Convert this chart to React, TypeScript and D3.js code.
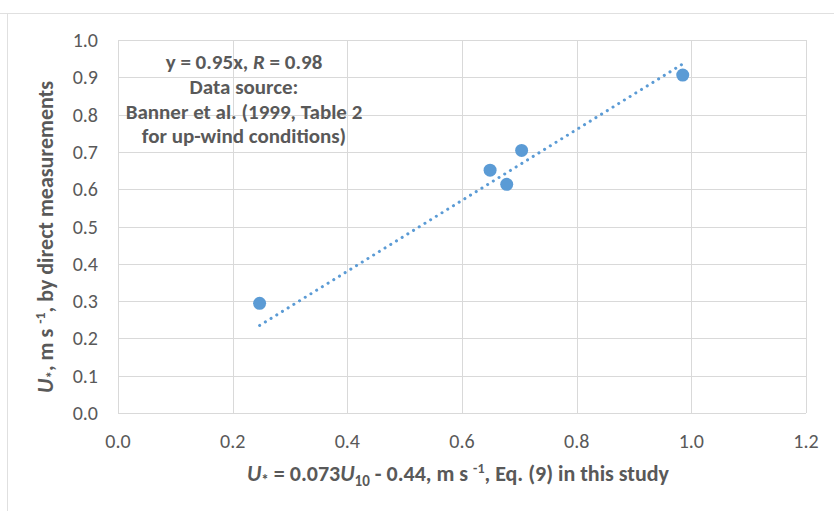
import React from 'react';
import * as d3 from 'd3';

// Values
const xTicks = [0, 0.2, 0.4, 0.6, 0.8, 1.0, 1.2];
const yTicks = [0, 0.1, 0.2, 0.3, 0.4, 0.5, 0.6, 0.7, 0.8, 0.9, 1.0];
const uStarEq9 = [0.247, 0.649, 0.678, 0.704, 0.985];
const uStarMeasured = [0.294, 0.651, 0.613, 0.704, 0.906];
const trendSlope = 0.95;
const noteLines = ['Data source:', 'Banner et al. (1999, Table 2', 'for up-wind conditions)'];

const W = 834;
const H = 511;
const margin = { top: 40, right: 28, bottom: 98, left: 118 };
const font = 'Carlito, Calibri, Lato, "Open Sans", sans-serif';
const grey = '#595959';
const blue = '#5B9BD5';

const App = () => {
  const x = d3.scaleLinear().domain([0, 1.2]).range([margin.left, W - margin.right]);
  const y = d3.scaleLinear().domain([0, 1.0]).range([H - margin.bottom, margin.top]);

  const xMin = d3.min(uStarEq9) as number;
  const xMax = d3.max(uStarEq9) as number;
  const trend = d3
    .line<number>()
    .x(d => x(d))
    .y(d => y(trendSlope * d))([xMin, xMax]);

  const fmt = d3.format('.1f');

  return (
    <svg width={W} height={H} style={{ position: 'absolute', left: 0, top: 0, background: '#fff' }}>
      {/* chart frame */}
      <line x1={0} x2={W} y1={13.5} y2={13.5} stroke="#e0e0e0" />
      <line x1={7.5} x2={7.5} y1={13.5} y2={H} stroke="#e0e0e0" />

      {/* gridlines */}
      {yTicks.map(t => (
        <line key={'gy' + t} x1={x(0)} x2={x(1.2)} y1={Math.round(y(t)) + 0.5} y2={Math.round(y(t)) + 0.5} stroke="#d9d9d9" />
      ))}
      {xTicks.map(t => (
        <line key={'gx' + t} y1={y(0)} y2={y(1)} x1={Math.round(x(t)) + 0.5} x2={Math.round(x(t)) + 0.5} stroke="#d9d9d9" />
      ))}

      {/* tick labels */}
      {yTicks.map(t => (
        <text key={'ty' + t} x={x(0) - 20} y={y(t)} dy="0.35em" textAnchor="end" fontFamily={font} fontSize={20} fill={grey}>
          {fmt(t)}
        </text>
      ))}
      {xTicks.map(t => (
        <text key={'tx' + t} x={x(t)} y={y(0) + 28} dy="0.35em" textAnchor="middle" fontFamily={font} fontSize={20} fill={grey}>
          {fmt(t)}
        </text>
      ))}

      {/* trendline */}
      <path d={trend || ''} fill="none" stroke={blue} strokeWidth={3} strokeLinecap="round" strokeDasharray="0.1 6.6" />

      {/* points */}
      {uStarEq9.map((v, i) => (
        <circle key={'p' + i} cx={x(v)} cy={y(uStarMeasured[i])} r={6.5} fill={blue} />
      ))}

      {/* note */}
      <g fontFamily={font} fontSize={21} fontWeight="bold" fill={grey} textAnchor="middle">
        <text x={244} y={69}>
          y = 0.95x, <tspan fontStyle="italic">R</tspan> = 0.98
        </text>
        {noteLines.map((l, i) => (
          <text key={l} x={244} y={94 + i * 24.5}>
            {l}
          </text>
        ))}
      </g>

      {/* axis titles */}
      <text x={458} y={481} textAnchor="middle" fontFamily={font} fontSize={22} fontWeight="bold" fill={grey}>
        <tspan fontStyle="italic">U</tspan>
        <tspan dy={4} fontSize={15}>*</tspan>
        <tspan dy={-4}> = 0.073</tspan>
        <tspan fontStyle="italic">U</tspan>
        <tspan dy={5} fontSize={15}>10</tspan>
        <tspan dy={-5}> - 0.44, m s </tspan>
        <tspan dy={-8} fontSize={14}>-1</tspan>
        <tspan dy={8}>, Eq. (9) in this study</tspan>
      </text>
      <text
        transform={`translate(53,${237}) rotate(-90)`}
        textAnchor="middle"
        fontFamily={font}
        fontSize={22}
        fontWeight="bold"
        fill={grey}
      >
        <tspan fontStyle="italic">U</tspan>
        <tspan dy={4} fontSize={15}>*</tspan>
        <tspan dy={-4}>, m s </tspan>
        <tspan dy={-8} fontSize={14}>-1</tspan>
        <tspan dy={8}>, by direct measurements</tspan>
      </text>
    </svg>
  );
};

export default App;
